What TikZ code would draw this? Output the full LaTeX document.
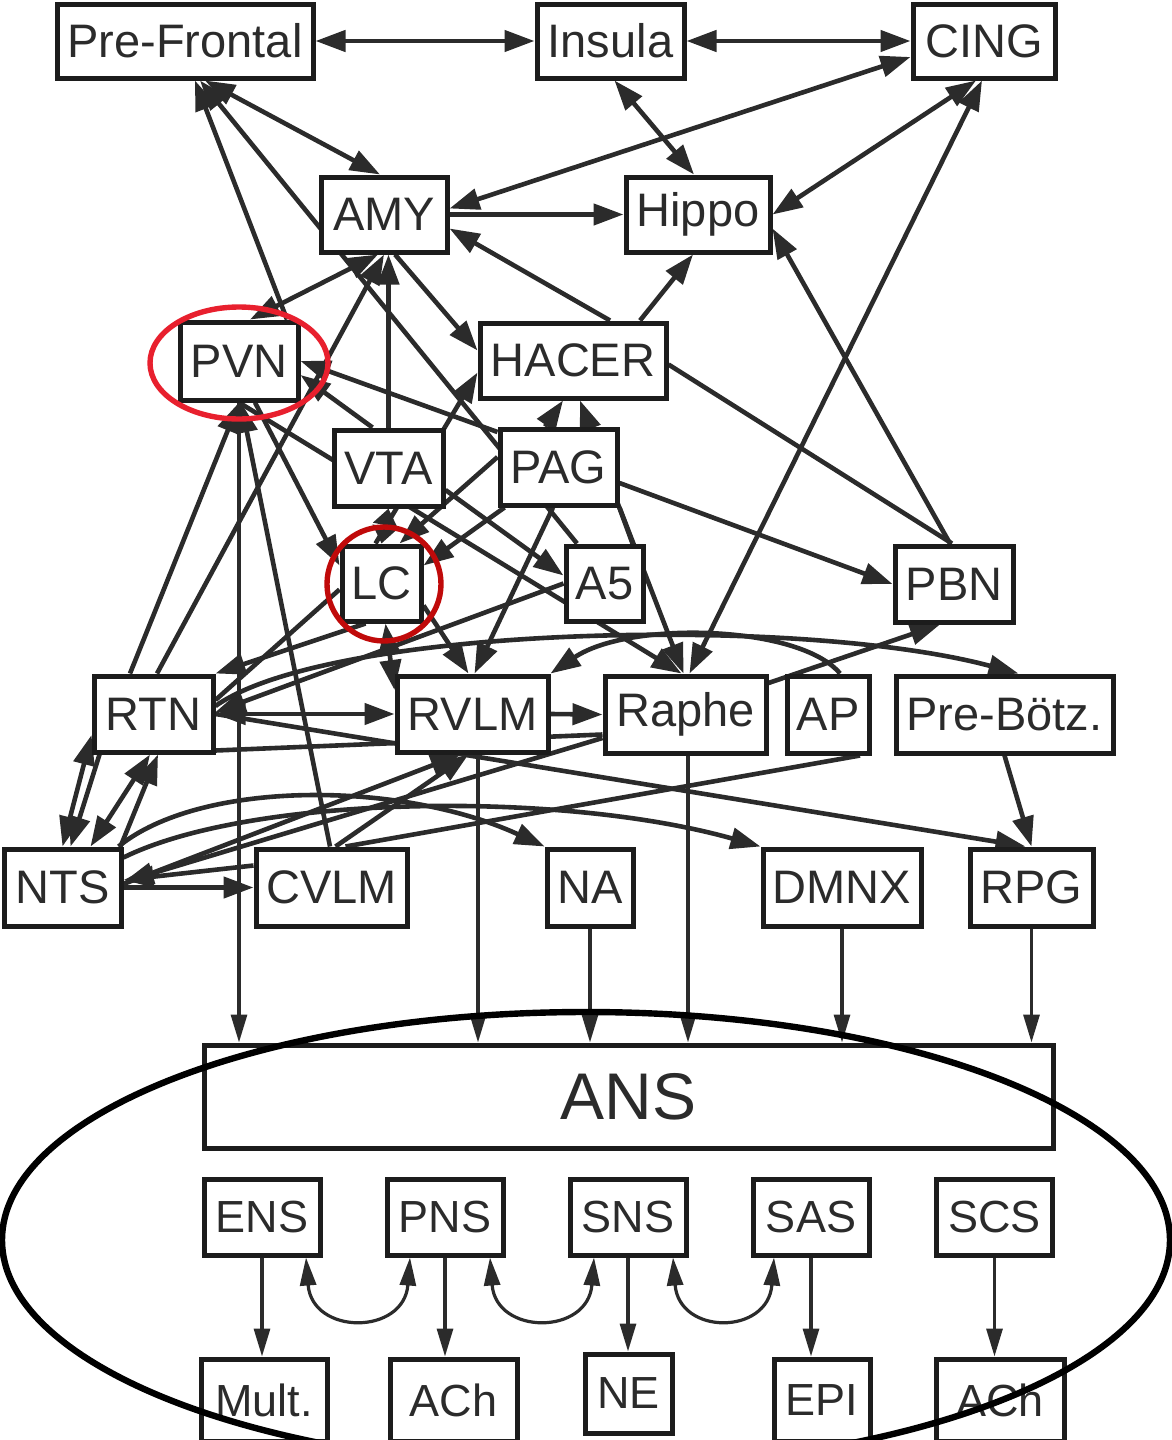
\documentclass[tikz,border=0pt]{standalone}
\usepackage{fontspec}
\newfontfamily\lblfont{Liberation Sans}
\usetikzlibrary{arrows.meta,backgrounds}
\definecolor{ink}{HTML}{2B2B2B}
\definecolor{frame}{HTML}{1C1C1C}
\definecolor{pvnred}{HTML}{E8202E}
\definecolor{lcred}{HTML}{C00A0A}
\begin{document}
\begin{tikzpicture}[x=0.5pt,y=-0.5pt,
  nbox/.style={draw=frame, line width=2.5pt, fill=white, inner sep=0pt, text=ink,
               font=\lblfont\fontsize{23.5}{26}\selectfont},
  sbox/.style={nbox, font=\lblfont\fontsize{22.5}{25}\selectfont},
  wh/.style 2 args={minimum width=#1pt, minimum height=#2pt},
  lnk/.style={draw=ink, line width=2.3pt},
  fwd/.style={lnk, -{Triangle[length=15pt,width=10.5pt]}},
  bidir/.style={lnk, {Triangle[length=15pt,width=10.5pt]}-{Triangle[length=15pt,width=10.5pt]}},
  bidirs/.style={lnk, {Triangle[length=8.5pt,width=12pt]}-{Triangle[length=8.5pt,width=12pt]}},
  plainlnk/.style={lnk},
  vdrop/.style={draw=ink, line width=1.6pt, -{Triangle[length=14pt,width=8pt]}},
  vdropboth/.style={draw=ink, line width=1.6pt, {Triangle[length=14pt,width=8pt]}-{Triangle[length=14pt,width=8pt]}}
]
\clip (0,0) rectangle (1172,1440);
\useasboundingbox (0,0) rectangle (1172,1440);

% cortical and limbic regions
\node[nbox, wh={128}{37}]   (PF)   at (185,41)    {Pre-Frontal};
\node[nbox, wh={73.5}{37}]  (Ins)  at (610.5,41)  {Insula};
\node[nbox, wh={71}{37}]    (CING) at (984,41)    {CING};
\node[nbox, wh={63}{37.5}]  (AMY)  at (384,214.5) {AMY};
\node[nbox, wh={72}{37.5}]  (Hip)  at (698,214.5) {Hippo};
\node[nbox, wh={59}{39}]    (PVN)  at (239,361)   {PVN};
\node[nbox, wh={93}{37.5}]  (HAC)  at (573,360.5) {HACER};
\node[nbox, wh={54.5}{38}]  (VTA)  at (388.5,468) {VTA};
\node[nbox, wh={58.5}{38}]  (PAG)  at (558.5,467) {PAG};
\node[nbox, wh={39.5}{37.5}] (LC)  at (381.5,583.5) {LC};
\node[nbox, wh={38.5}{37.5}] (A5)  at (604.5,583.5) {A5};
\node[nbox, wh={59}{38}]    (PBN)  at (954,584)   {PBN};
% brainstem
\node[nbox, wh={59.5}{38}]  (RTN)  at (153.5,714) {RTN};
\node[nbox, wh={75.5}{38}]  (RVLM) at (472.5,714) {RVLM};
\node[nbox, wh={80.5}{38.5}] (Raphe) at (685.5,714.5) {Raphe};
\node[nbox, wh={41}{38.5}]  (AP)   at (828,714.5) {AP};
\node[nbox, wh={108.5}{38.5}] (PreB) at (1004.5,714.5) {Pre-Bötz.};
\node[nbox, wh={58.5}{38.5}] (NTS) at (62.5,887.5) {NTS};
\node[nbox, wh={75.5}{38.5}] (CVLM) at (331.5,887.5) {CVLM};
\node[nbox, wh={43}{38.5}]  (NA)   at (590,887.5) {NA};
\node[nbox, wh={79}{38.5}]  (DMNX) at (842,887.5) {DMNX};
\node[nbox, wh={61.5}{38.5}] (RPG) at (1031.5,887.5) {RPG};
% autonomic output
\node[nbox, wh={424.5}{51.5}, font=\lblfont\fontsize{33}{36}\selectfont] (ANS) at (628.5,1096.5) {ANS};
\node[sbox, wh={58}{38}] (ENS) at (262,1217)   {ENS};
\node[sbox, wh={58}{38}] (PNS) at (445,1217)   {PNS};
\node[sbox, wh={58}{38}] (SNS) at (628,1217)   {SNS};
\node[sbox, wh={58}{38}] (SAS) at (811,1217)   {SAS};
\node[sbox, wh={58}{38}] (SCS) at (994.5,1217) {SCS};
\node[sbox, wh={63}{41}]   (Mult) at (264,1400)    {Mult.};
\node[sbox, wh={63.5}{41}] (AChA) at (453.5,1400)  {ACh};
\node[sbox, wh={43.5}{39.5}] (NE) at (628.5,1393.5) {NE};
\node[sbox, wh={48}{41}]   (EPI)  at (822,1400)    {EPI};
\node[sbox, wh={64}{41}]   (AChB) at (1000,1400)   {ACh};

\begin{scope}[on background layer]
% cortex and limbic links
\draw[bidir] (PF.east) -- (Ins.west);
\draw[bidir] (Ins.east) -- (CING.west);
\draw[bidir] ([xshift=10pt]PF.south) -- ([xshift=-2pt]AMY.north);
\draw[bidir] ([yshift=3pt]AMY.east) -- ([yshift=-8pt]CING.west);
\draw[fwd] (AMY.east) -- (Hip.west);
\draw[bidir] ([xshift=2pt]Ins.south) -- ([xshift=-2pt]Hip.north);
\draw[bidir] (Hip.east) -- ([xshift=-4pt]CING.south);
\draw[fwd] ([xshift=18.5pt]HAC.north) -- ([yshift=-7pt]AMY.east);
\draw[fwd] ([xshift=33.5pt]HAC.north) -- ([xshift=-2.5pt]Hip.south);
\draw[fwd] ([xshift=-2pt]PBN.north) -- ([yshift=-7pt]Hip.east);
\draw[bidir] ([xshift=2pt]Raphe.north) -- ([xshift=-1pt]CING.south);
\draw[plainlnk] ([yshift=-2pt]HAC.east) -- ([xshift=-1pt]PBN.north);
\draw[fwd] ([yshift=-8pt]PAG.east) -- (PBN.west);
\draw[fwd] ([xshift=24pt]PVN.north) -- ([xshift=5pt]PF.south);
\draw[fwd] ([xshift=-13.75pt]A5.north) -- ([xshift=7.5pt]PF.south);
\draw[bidir] ([xshift=-3pt]AMY.south) -- ([xshift=5.5pt]PVN.north);
\draw[fwd] ([xshift=1.75pt]RTN.north) -- (AMY.south);
\draw[fwd] (VTA.north) -- (VTA.north |- AMY.south);
\draw[fwd] ([xshift=5.5pt]AMY.south) -- ([yshift=5pt]HAC.west);
\draw[fwd] ([xshift=-3pt]LC.north) -- ([yshift=-6pt]HAC.west);
\draw[fwd] ([xshift=-6.75pt]PAG.north) -- ([xshift=-5pt]HAC.south);
\draw[fwd] ([xshift=14pt]A5.north) -- ([xshift=3.5pt]HAC.south);
% hypothalamus and midbrain
\draw[fwd] ([xshift=-11.75pt]RTN.north) -- (PVN.south);
\draw[fwd] ([xshift=-0.75pt]CVLM.north) -- ([xshift=1pt]PVN.south);
\draw[fwd] ([xshift=8pt]PVN.south) -- ([yshift=9pt]LC.west);
\draw[fwd] ([yshift=17.5pt]PAG.west) -- (PVN.east);
\draw[fwd] ([xshift=-8pt]VTA.north) -- ([yshift=-7pt]PVN.east);
\draw[fwd] (PVN.south) -- ([xshift=-2pt]Raphe.north);
\draw[bidirs] (VTA.south) -- (LC.north);
\draw[fwd] ([yshift=5pt]PAG.west) -- ([xshift=9pt]LC.north);
\draw[fwd] ([xshift=3.5pt]PAG.south west) -- ([yshift=9pt]LC.east);
\draw[fwd] ([yshift=-11pt]VTA.east) -- ([yshift=4pt]A5.west);
\draw[fwd] (A5.west) -- ([yshift=1pt]RTN.east);
\draw[fwd] ([xshift=-2.75pt]PAG.south) -- ([xshift=1pt]RVLM.north);
\draw[fwd] (PAG.south east) -- ([xshift=-1pt]Raphe.north);
% brainstem links
\draw[fwd] ([yshift=-11pt]LC.east) -- ([xshift=-2pt]RVLM.north);
\draw[bidir] ([xshift=2pt]LC.south) -- ([yshift=12pt]RVLM.west);
\draw[bidir] (RTN.east) -- (RVLM.west);
\draw[fwd] (RVLM.east) -- (Raphe.west);
\draw[plainlnk] ([yshift=2pt]RTN.south east) -- ([yshift=-10pt]Raphe.west);
\draw[fwd] ([xshift=-8pt]LC.south) -- (RTN.north east);
\draw[plainlnk] ([yshift=7pt]RTN.east) -- ([yshift=-3pt]LC.west);
\draw[fwd] ([yshift=4pt]RTN.east) .. controls (330,625) and (800,615) .. ([xshift=7pt]PreB.north);
\draw[fwd] (RTN.east) -- ([xshift=-3pt]RPG.north);
\draw[fwd] ([xshift=6pt]AP.north) .. controls (800,625) and (630,620) .. (RVLM.north east);
\draw[fwd] ([yshift=15.75pt]Raphe.east) -- ([xshift=-7pt]PBN.south);
\draw[fwd] (PreB.south) -- (RPG.north);
\draw[bidir] (NTS.north) -- ([yshift=-10.5pt]RTN.west);
\draw[fwd] ([xshift=4pt]RTN.south west) -- ([xshift=4pt]NTS.north);
\draw[bidir] ([xshift=-1.75pt]RTN.south) -- ([xshift=14pt]NTS.north);
\draw[fwd] ([xshift=-1.5pt]NTS.north east) -- ([xshift=2.25pt]RTN.south);
\draw[fwd] (NTS.east) -- (CVLM.west);
\draw[fwd] ([yshift=11pt]CVLM.west) -- ([yshift=3.75pt]NTS.east);
\draw[fwd] ([yshift=-11.75pt]Raphe.west) -- ([yshift=2.75pt]NTS.east);
\draw[fwd] ([yshift=1.75pt]NTS.east) -- ([xshift=-6pt]RVLM.south);
\draw[fwd] ([xshift=2pt]CVLM.north) -- ([xshift=-2pt]RVLM.south);
\draw[plainlnk] ([xshift=16pt]AP.south) -- ([xshift=7pt]CVLM.north);
\draw[fwd] ([xshift=-2.5pt]NTS.north east) .. controls (200,780) and (400,780) .. (NA.north west);
\draw[fwd] ([yshift=15pt]NTS.east) .. controls (250,795) and (560,790) .. (DMNX.north west);
% outputs to the autonomic nervous system
\path ([xshift=2.75pt]RVLM.south) coordinate (vR);
\path ([xshift=1.25pt]Raphe.south) coordinate (vP);
\draw[vdrop] (PVN.south) -- (PVN.south |- ANS.north);
\draw[vdrop] (vR) -- (vR |- ANS.north);
\draw[vdrop] (NA.south) -- (NA.south |- ANS.north);
\draw[vdrop] (vP) -- (vP |- ANS.north);
\draw[vdrop] (DMNX.south) -- (DMNX.south |- ANS.north);
\draw[vdrop] (RPG.south) -- (RPG.south |- ANS.north);
% branches and transmitters
\draw[vdrop] (ENS.south) -- (ENS.south |- Mult.north);
\draw[vdrop] (PNS.south) -- (PNS.south |- AChA.north);
\draw[vdrop] (SNS.south) -- (SNS.south |- NE.north);
\draw[vdrop] (SAS.south) -- (SAS.south |- EPI.north);
\draw[vdrop] (SCS.south) -- (SCS.south |- AChB.north);
\draw[vdropboth] ([xshift=22pt]ENS.south) .. controls +(6,78) and +(-6,78) .. ([xshift=-17.5pt]PNS.south);
\draw[vdropboth] ([xshift=22.5pt]PNS.south) .. controls +(6,78) and +(-6,78) .. ([xshift=-17pt]SNS.south);
\draw[vdropboth] ([xshift=22.5pt]SNS.south) .. controls +(6,78) and +(-6,78) .. ([xshift=-18.5pt]SAS.south);
\end{scope}

% highlight rings
\draw[pvnred, line width=2.7pt] (239,363) ellipse [x radius=44.5pt, y radius=28pt];
\draw[lcred, line width=2.7pt] (384,584) circle [radius=28.5pt];
\draw[black, line width=3.2pt] (586,1240) ellipse [x radius=292pt, y radius=114pt];
\end{tikzpicture}
\end{document}
